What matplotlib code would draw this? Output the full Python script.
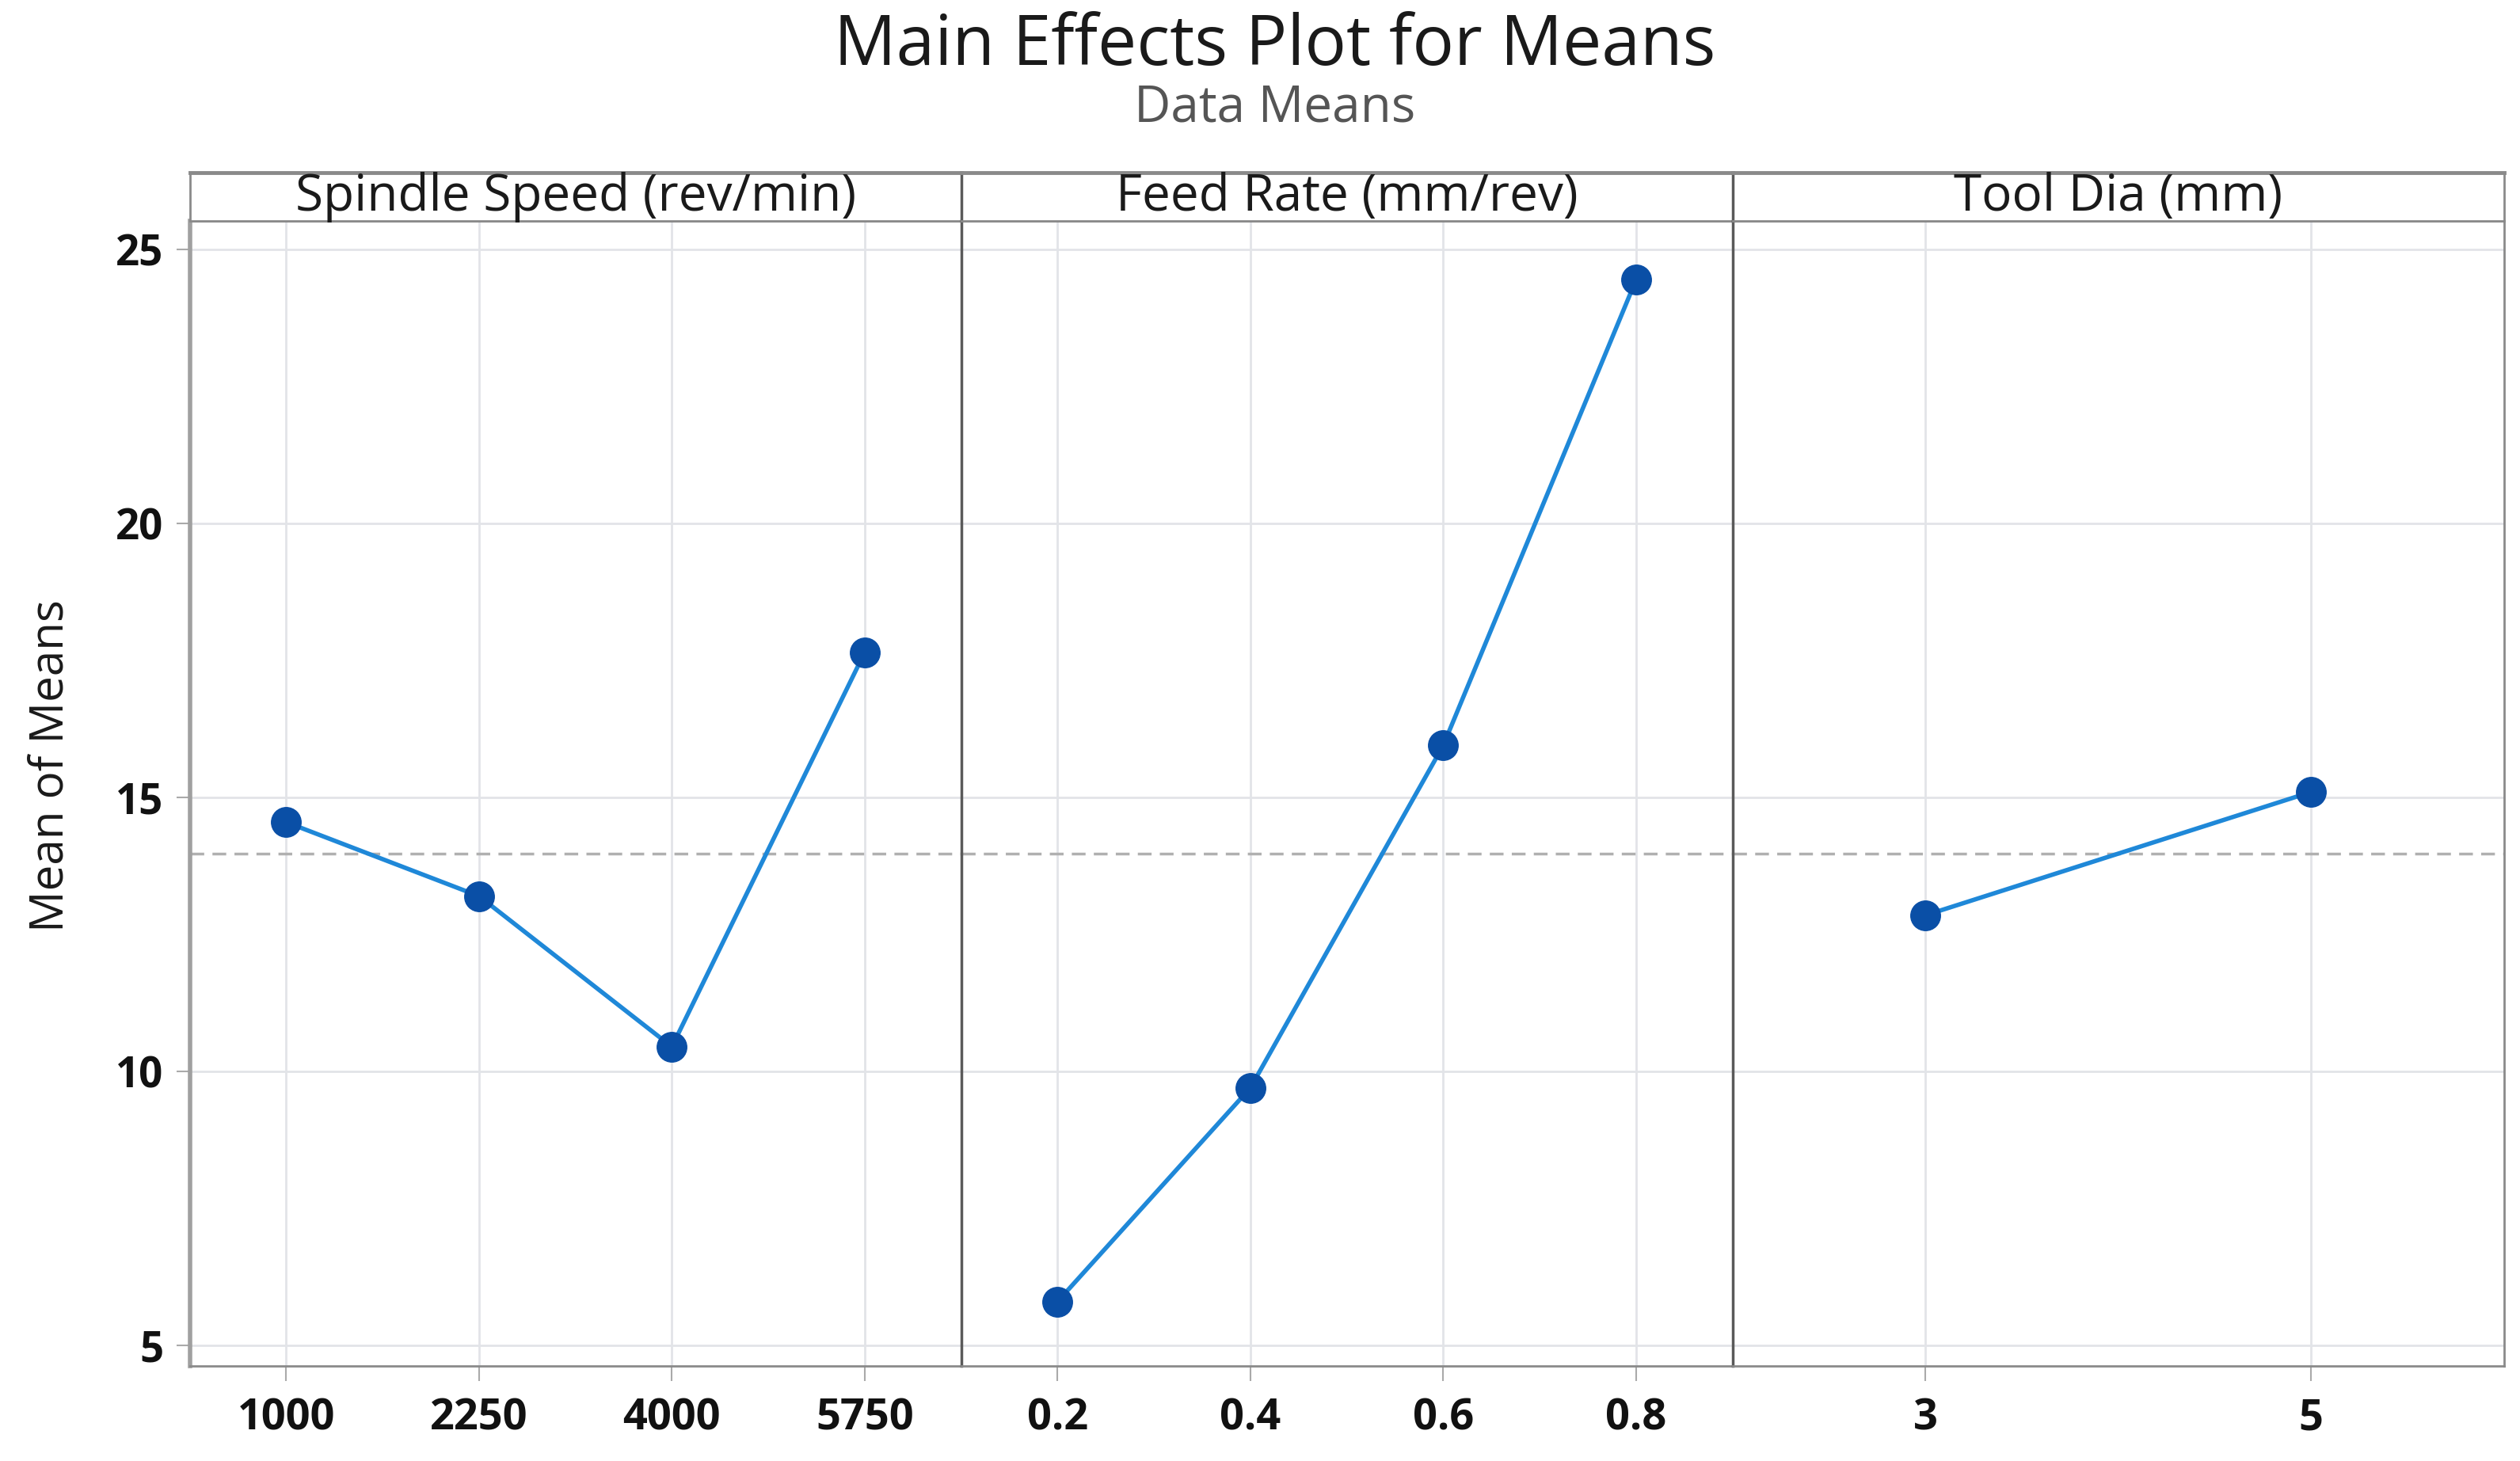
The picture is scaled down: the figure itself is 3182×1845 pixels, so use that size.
import matplotlib
matplotlib.use("Agg")
import matplotlib.pyplot as plt

# Level labels and means
spindle_levels = ['1000', '2250', '4000', '5750']
spindle_means = [14.55, 13.2, 10.45, 17.65]

feed_levels = ['0.2', '0.4', '0.6', '0.8']
feed_means = [5.8, 9.7, 15.95, 24.45]

tool_levels = ['3', '5']
tool_means = [12.85, 15.1]

factor_names = ['Spindle Speed (rev/min)', 'Feed Rate (mm/rev)', 'Tool Dia (mm)']
grand_mean = 13.97
y_ticks = [5, 10, 15, 20, 25]

plt.rcParams['font.family'] = ['Open Sans', 'DejaVu Sans']

fig = plt.figure(figsize=(31.82, 18.45), dpi=100)

left, right = 0.0753, 0.9936
bottom, top = 0.0649, 0.849
strip_top = 0.882

panels = [(spindle_levels, spindle_means),
          (feed_levels, feed_means),
          (tool_levels, tool_means)]

width = (right - left) / 3
frame_col = '#8a8a8a'
line_col = '#1f88d8'
marker_col = '#0a4fa6'

for i, ((levels, means), name) in enumerate(zip(panels, factor_names)):
    x0 = left + i * width
    ax = fig.add_axes([x0, bottom, width, top - bottom])
    pos = list(range(len(levels)))

    ax.plot(pos, means, color=line_col, lw=4, zorder=3)
    ax.plot(pos, means, 'o', color=marker_col, ms=27, mec=marker_col, zorder=4)
    ax.axhline(grand_mean, color='#b0b0b0', lw=2.5, ls=(0, (5, 3)), zorder=2)

    ax.set_xlim(-0.5, len(levels) - 0.5)
    ax.set_ylim(4.62, 25.53)
    ax.set_xticks(pos)
    ax.set_xticklabels(levels, fontsize=39, fontweight='bold', color='#111111')
    ax.set_yticks(y_ticks)
    ax.grid(True, color='#e2e4e8', lw=2, zorder=0)
    ax.tick_params(axis='x', length=14, width=1.5, color='#aaaaaa', pad=14)
    ax.tick_params(axis='y', length=12, width=1.5, color='#aaaaaa', pad=12)

    if i == 0:
        ax.set_yticklabels([str(t) for t in y_ticks], fontsize=38,
                           fontweight='bold', color='#111111')
    else:
        ax.tick_params(axis='y', left=False, labelleft=False)

    for side in ['top', 'bottom', 'left', 'right']:
        ax.spines[side].set_color(frame_col)
        ax.spines[side].set_linewidth(2)
    if i == 0:
        ax.spines['left'].set_linewidth(4)
        ax.spines['left'].set_color('#a0a0a0')
    if i > 0:
        ax.spines['left'].set_color('#5a5a5a')
        ax.spines['left'].set_linewidth(2.5)

    # strip header on top of each panel
    sax = fig.add_axes([x0, top, width, strip_top - top])
    sax.set_xticks([])
    sax.set_yticks([])
    for side in ['top', 'bottom', 'left', 'right']:
        sax.spines[side].set_color(frame_col)
        sax.spines[side].set_linewidth(2)
    sax.spines['top'].set_linewidth(3.5)
    if i > 0:
        sax.spines['left'].set_color('#5a5a5a')
        sax.spines['left'].set_linewidth(2.5)
    sax.text(0.5, 0.48, name, ha='center', va='center', fontsize=46,
             fontweight='medium', color='#1a1a1a', transform=sax.transAxes)

fig.text(0.0204, 0.476, 'Mean of Means', rotation=90, ha='center', va='center',
         fontsize=42, color='#1a1a1a')
fig.text(0.506, 0.968, 'Main Effects Plot for Means', ha='center', va='center',
         fontsize=63, fontweight='medium', color='#1a1a1a')
fig.text(0.506, 0.926, 'Data Means', ha='center', va='center',
         fontsize=46, color='#555555')

fig.savefig('out.png', dpi=100)
